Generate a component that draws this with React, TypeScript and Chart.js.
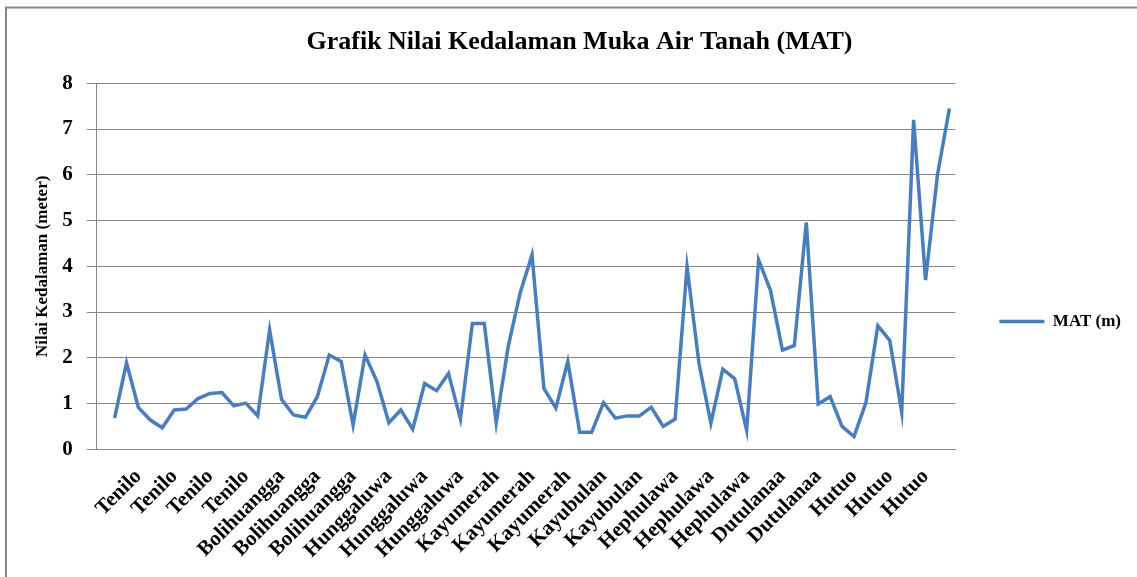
import React, { useEffect, useRef } from "react";
import { Chart, registerables } from "chart.js";

Chart.register(...registerables);

const CHART_TITLE = "Grafik Nilai Kedalaman Muka Air Tanah (MAT)";
const Y_TITLE = "Nilai Kedalaman (meter)";
const SERIES_NAME = "MAT (m)";

// Visible category labels (one every 3rd category, starting at category 3)
const TICK_LABELS = [
  "Tenilo", "Tenilo", "Tenilo", "Tenilo",
  "Bolihuangga", "Bolihuangga", "Bolihuangga",
  "Hunggaluwa", "Hunggaluwa", "Hunggaluwa",
  "Kayumerah", "Kayumerah", "Kayumerah",
  "Kayubulan", "Kayubulan",
  "Hephulawa", "Hephulawa", "Hephulawa",
  "Dutulanaa", "Dutulanaa",
  "Hutuo", "Hutuo", "Hutuo",
];
const LABEL_EVERY = 3;
const CATEGORY_COUNT = 72;

// MAT depth (m); category 0 is empty
const MAT_VALUES: (number | null)[] = [
  null,
  0.68, 1.89, 0.91, 0.64, 0.47, 0.86, 0.88, 1.11, 1.22, 1.24,
  0.95, 1.01, 0.73, 2.61, 1.09, 0.75, 0.70, 1.15, 2.06, 1.92,
  0.53, 2.06, 1.48, 0.58, 0.86, 0.44, 1.44, 1.28, 1.66, 0.66,
  2.75, 2.75, 0.58, 2.24, 3.41, 4.25, 1.33, 0.90, 1.92, 0.37,
  0.37, 1.02, 0.68, 0.73, 0.73, 0.92, 0.50, 0.66, 3.99, 1.88,
  0.57, 1.75, 1.54, 0.41, 4.14, 3.47, 2.17, 2.27, 4.96, 0.99,
  1.15, 0.50, 0.28, 1.02, 2.70, 2.38, 0.81, 7.20, 3.70, 6.00, 7.45,
];

const Y_MIN = 0;
const Y_MAX = 8;
const Y_STEP = 1;

const FONT = "'Liberation Serif', 'Times New Roman', serif";
const LINE_COLOR = "#4a7ebb";
const GRID_COLOR = "#878787";

const categories: string[] = Array.from({ length: CATEGORY_COUNT }, (_, i) => {
  if (i > 0 && i % LABEL_EVERY === 0) {
    const k = i / LABEL_EVERY - 1;
    return TICK_LABELS[k] ?? "";
  }
  return "";
});

const framePlugin = {
  id: "frame",
  beforeDraw(chart: any) {
    const ctx = chart.ctx;
    ctx.save();
    ctx.fillStyle = "#ffffff";
    ctx.fillRect(0, 0, chart.width, chart.height);
    ctx.strokeStyle = "#888888";
    ctx.lineWidth = 2;
    ctx.strokeRect(6, 7.5, chart.width + 40, chart.height + 40);
    ctx.restore();
  },
};

export default function App() {
  const canvasRef = useRef<HTMLCanvasElement | null>(null);

  useEffect(() => {
    if (!canvasRef.current) return;
    const chart = new Chart(canvasRef.current, {
      type: "line",
      data: {
        labels: categories,
        datasets: [
          {
            label: SERIES_NAME,
            data: MAT_VALUES,
            borderColor: LINE_COLOR,
            backgroundColor: LINE_COLOR,
            borderWidth: 3.5,
            pointRadius: 0,
            tension: 0,
            fill: false,
          },
        ],
      },
      options: {
        animation: false,
        responsive: false,
        layout: { padding: { left: 28, right: 6, top: 0, bottom: 0 } },
        plugins: {
          title: {
            display: true,
            text: CHART_TITLE,
            color: "#000",
            font: { family: FONT, size: 26, weight: "bold" },
            padding: { top: 26.4, bottom: 25.7 },
          },
          legend: {
            position: "right",
            title: { display: true, text: "", font: { size: 1 }, padding: { top: 65, bottom: 0 } },
            labels: {
              usePointStyle: true,
              pointStyle: "line",
              pointStyleWidth: 45,
              padding: 44,
              color: "#000",
              font: { family: FONT, size: 17, weight: "bold" },
            },
          },
          tooltip: { enabled: false },
        },
        scales: {
          x: {
            type: "category",
            offset: true,
            grid: { display: false, drawTicks: false },
            border: { display: true, color: GRID_COLOR, width: 1 },
            ticks: {
              autoSkip: false,
              minRotation: 45,
              maxRotation: 45,
              padding: 15,
              color: "#000",
              font: { family: FONT, size: 21, weight: "bold" },
            },
            afterFit: (scale: any) => {
              scale.height = 577 - 449.3;
            },
          },
          y: {
            min: Y_MIN,
            max: Y_MAX,
            ticks: {
              stepSize: Y_STEP,
              padding: 14,
              color: "#000",
              font: { family: FONT, size: 21, weight: "bold" },
            },
            grid: { color: GRID_COLOR, lineWidth: 1, drawTicks: true, tickLength: 10 },
            border: { display: true, color: GRID_COLOR, width: 1 },
            title: {
              display: true,
              text: Y_TITLE,
              color: "#000",
              font: { family: FONT, size: 17, weight: "bold" },
              padding: { top: 4.8, bottom: 0 },
            },
            afterFit: (scale: any) => {
              scale.width = 96.7 - 28;
            },
          },
        },
      },
      plugins: [framePlugin],
    } as any);
    return () => chart.destroy();
  }, []);

  return (
    <div style={{ position: "absolute", left: 0, top: 0, width: 1137, height: 577 }}>
      <canvas ref={canvasRef} width={1137} height={577} style={{ display: "block" }} />
    </div>
  );
}
